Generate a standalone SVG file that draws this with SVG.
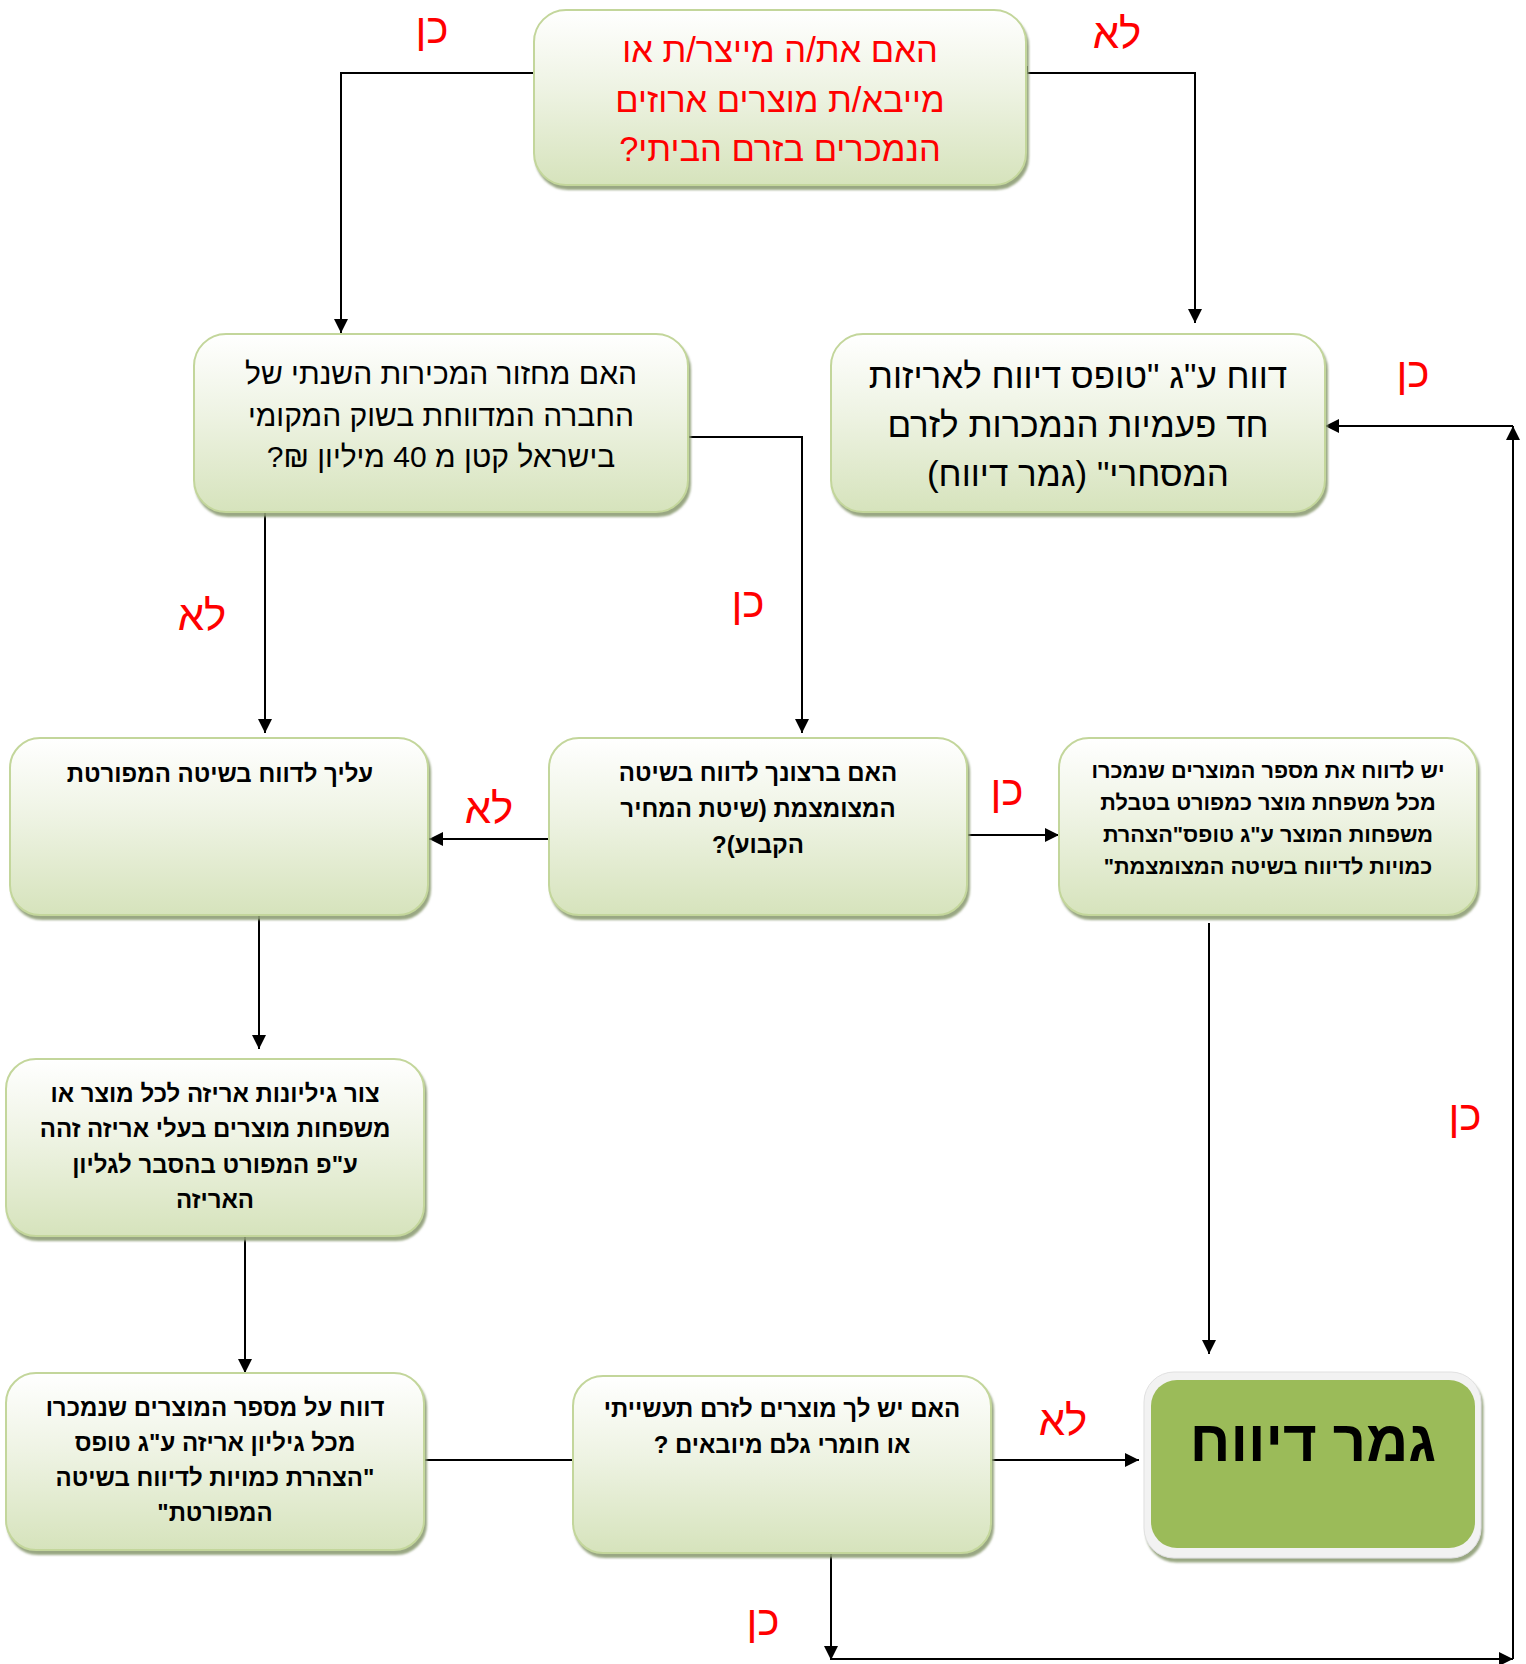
<svg xmlns="http://www.w3.org/2000/svg" width="1526" height="1664" viewBox="0 0 1526 1664">
<defs>
<linearGradient id="g" x1="0" y1="0" x2="0" y2="1">
<stop offset="0" stop-color="#FFFFFF"/>
<stop offset="0.45" stop-color="#EEF3E3"/>
<stop offset="1" stop-color="#D6E3BC"/>
</linearGradient>
<filter id="sh" x="-5%" y="-5%" width="112%" height="115%">
<feDropShadow dx="2" dy="4" stdDeviation="1.2" flood-color="#8E9E74" flood-opacity="0.9"/>
</filter>
<marker id="ar" viewBox="0 0 10 10" refX="10" refY="5" markerWidth="14" markerHeight="14" markerUnits="userSpaceOnUse" orient="auto">
<path d="M0,0 L10,5 L0,10 z" fill="#000"/>
</marker>
<style>
.box{fill:url(#g);stroke:#C3D69B;stroke-width:2;filter:url(#sh)}
.t{font-family:"Liberation Sans",Arial,sans-serif;text-anchor:middle;fill:#000}
.r{fill:#FF0000}
.b{font-weight:bold;font-size:24px}
.bs{font-size:21.7px}
.lbl{font-family:"Liberation Sans",Arial,sans-serif;font-size:42px;fill:#FF0000;text-anchor:middle}
.c{fill:none;stroke:#000;stroke-width:2}
.ca{fill:none;stroke:#000;stroke-width:2;marker-end:url(#ar)}
</style>
</defs>

<g id="connectors">
<path class="ca" d="M534,73 H341 V333"/>
<path class="ca" d="M1027,66 V73 H1195 V323"/>
<path class="ca" d="M688,437 H802 V733"/>
<path class="ca" d="M265,509 V733"/>
<path class="ca" d="M549,839 H429"/>
<path class="ca" d="M967,835 H1059"/>
<path class="ca" d="M1209,923 V1354"/>
<path class="ca" d="M259,913 V1049"/>
<path class="ca" d="M245,1237 V1373"/>
<path class="c" d="M424,1460 H573"/>
<path class="ca" d="M991,1460 H1139"/>
<path class="ca" d="M831,1551 V1660"/>
<path class="ca" d="M831,1659 H1513"/>
<path class="ca" d="M1513,1659 V426"/>
<path class="ca" d="M1513,426 H1325"/>
</g>

<g id="labels">
<text class="lbl" x="432" y="43">כן</text>
<text class="lbl" x="1117" y="48">לא</text>
<text class="lbl" x="1413" y="387">כן</text>
<text class="lbl" x="1465" y="1130">כן</text>
<text class="lbl" x="763" y="1635">כן</text>
<text class="lbl" x="202" y="630">לא</text>
<text class="lbl" x="748" y="617">כן</text>
<text class="lbl" x="489" y="823">לא</text>
<text class="lbl" x="1007" y="805">כן</text>
<text class="lbl" x="1063" y="1435">לא</text>
</g>

<g id="node-start">
<rect class="box" x="534" y="10" width="492" height="175" rx="32"/>
<text class="t r" direction="rtl" font-size="34.5" x="780" y="62">האם את/ה מייצר/ת או</text>
<text class="t r" direction="rtl" font-size="34.5" x="780" y="112">מייבא/ת מוצרים ארוזים</text>
<text class="t r" direction="rtl" font-size="34.5" x="780" y="161">הנמכרים בזרם הביתי?</text>
</g>

<g id="node-turnover">
<rect class="box" x="194" y="334" width="494" height="178" rx="32"/>
<text class="t" direction="rtl" font-size="30" x="441" y="384">האם מחזור המכירות השנתי של</text>
<text class="t" direction="rtl" font-size="30" x="441" y="426">החברה המדווחת בשוק המקומי</text>
<text class="t" direction="rtl" font-size="30" x="441" y="467">בישראל קטן מ 40 מיליון ₪?</text>
</g>

<g id="node-onetime">
<rect class="box" x="831" y="334" width="494" height="178" rx="32"/>
<text class="t" direction="rtl" font-size="35" x="1078" y="388">דווח ע"ג "טופס דיווח לאריזות</text>
<text class="t" direction="rtl" font-size="35" x="1078" y="437">חד פעמיות הנמכרות לזרם</text>
<text class="t" direction="rtl" font-size="35" x="1078" y="486">המסחרי" (גמר דיווח)</text>
</g>

<g id="node-detailed">
<rect class="box" x="10" y="738" width="418" height="177" rx="30"/>
<text class="t b" direction="rtl" x="220" y="782">עליך לדווח בשיטה המפורטת</text>
</g>

<g id="node-reduced-q">
<rect class="box" x="549" y="738" width="418" height="177" rx="30"/>
<text class="t b" direction="rtl" x="758" y="781">האם ברצונך לדווח בשיטה</text>
<text class="t b" direction="rtl" x="758" y="817">המצומצמת (שיטת המחיר</text>
<text class="t b" direction="rtl" x="758" y="853">הקבוע)?</text>
</g>

<g id="node-reduced">
<rect class="box" x="1059" y="738" width="418" height="177" rx="30"/>
<text class="t b bs" direction="rtl" x="1268" y="778">יש לדווח את מספר המוצרים שנמכרו</text>
<text class="t b bs" direction="rtl" x="1268" y="810">מכל משפחת מוצר כמפורט בטבלת</text>
<text class="t b bs" direction="rtl" x="1268" y="842">משפחות המוצר ע"ג טופס"הצהרת</text>
<text class="t b bs" direction="rtl" x="1268" y="874">כמויות לדיווח בשיטה המצומצמת"</text>
</g>

<g id="node-sheets">
<rect class="box" x="6" y="1059" width="418" height="177" rx="30"/>
<text class="t b" direction="rtl" x="215" y="1102">צור גיליונות אריזה לכל מוצר או</text>
<text class="t b" direction="rtl" x="215" y="1137">משפחות מוצרים בעלי אריזה זהה</text>
<text class="t b" direction="rtl" x="215" y="1173">ע"פ המפורט בהסבר לגליון</text>
<text class="t b" direction="rtl" x="215" y="1208">האריזה</text>
</g>

<g id="node-report-detailed">
<rect class="box" x="6" y="1373" width="418" height="177" rx="30"/>
<text class="t b" direction="rtl" x="215" y="1416">דווח על מספר המוצרים שנמכרו</text>
<text class="t b" direction="rtl" x="215" y="1451">מכל גיליון אריזה ע"ג טופס</text>
<text class="t b" direction="rtl" x="215" y="1486">"הצהרת כמויות לדיווח בשיטה</text>
<text class="t b" direction="rtl" x="215" y="1521">המפורטת"</text>
</g>

<g id="node-industrial">
<rect class="box" x="573" y="1376" width="418" height="177" rx="30"/>
<text class="t b" direction="rtl" x="782" y="1417">האם יש לך מוצרים לזרם תעשייתי</text>
<text class="t b" direction="rtl" x="782" y="1453">או חומרי גלם מיובאים ?</text>
</g>

<g id="node-end">
<rect x="1144" y="1372" width="337" height="186" rx="30" fill="#F2F2F2" stroke="#E0E0E0" stroke-width="1" filter="url(#sh)"/>
<rect x="1151" y="1380" width="324" height="168" rx="26" fill="#9BBB59"/>
<text class="t" direction="rtl" font-size="58" font-weight="bold" x="1313" y="1461">גמר דיווח</text>
</g>
</svg>
